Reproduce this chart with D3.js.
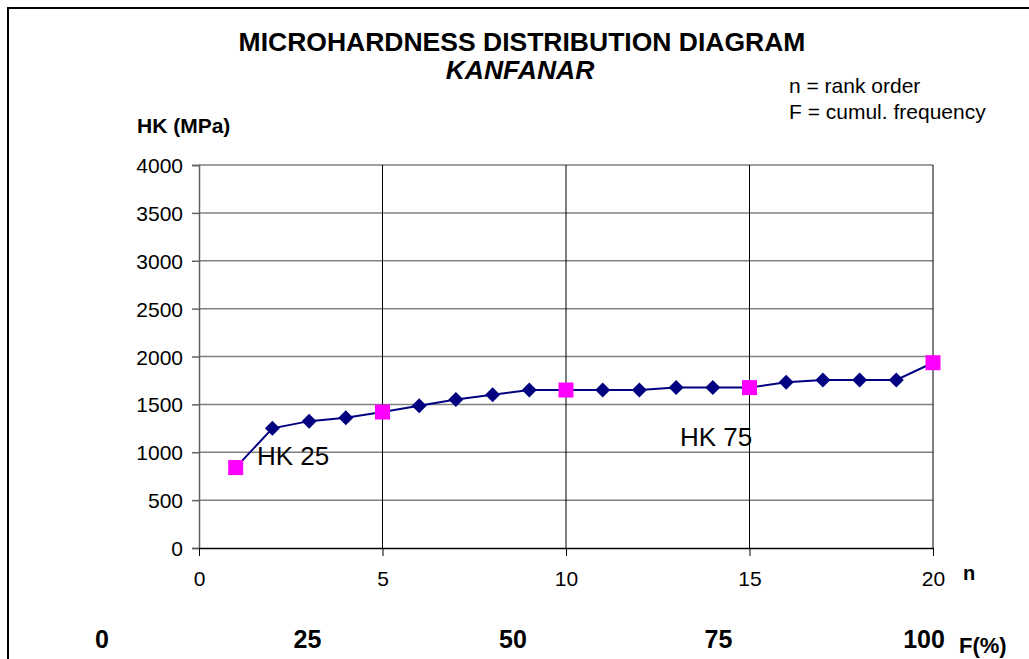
<!DOCTYPE html>
<html>
<head>
<meta charset="utf-8">
<script src="https://cdn.jsdelivr.net/npm/d3@7"></script>
<style>
  html, body { margin: 0; padding: 0; background: #ffffff; }
  svg text { font-family: "Liberation Sans", Arial, sans-serif; fill: #000000; }
</style>
</head>
<body>
<div id="chart"></div>
<script>
// data
var rankN     = [1, 2, 3, 4, 5, 6, 7, 8, 9, 10, 11, 12, 13, 14, 15, 16, 17, 18, 19, 20];
var hkValues  = [840, 1250, 1325, 1360, 1420, 1485, 1550, 1600, 1650, 1650,
                 1650, 1650, 1675, 1675, 1675, 1730, 1755, 1755, 1755, 1935];
var quartileN = [1, 5, 10, 15, 20];
var yTicks    = [0, 500, 1000, 1500, 2000, 2500, 3000, 3500, 4000];
var nTicks    = [0, 5, 10, 15, 20];
var fTicks    = [0, 25, 50, 75, 100];

var width = 1029, height = 659;
var plot = {left: 199, right: 933, top: 165, bottom: 548};

var svg = d3.select("#chart").append("svg")
  .attr("width", width)
  .attr("height", height);

// outer frame
svg.append("rect")
  .attr("x", 8).attr("y", 8)
  .attr("width", width + 20).attr("height", height + 20)
  .style("fill", "none")
  .style("stroke", "#000000")
  .style("stroke-width", 2);

var x = d3.scaleLinear().domain([0, 20]).range([plot.left, plot.right]);
var y = d3.scaleLinear().domain([0, 4000]).range([plot.bottom, plot.top]);
var f = d3.scaleLinear().domain([0, 100]).range([102, 924]);

// horizontal grid
svg.append("g").selectAll("line")
  .data(yTicks.filter(function(d){ return d > 0; }))
  .enter().append("line")
  .attr("x1", plot.left).attr("x2", plot.right)
  .attr("y1", function(d){ return y(d); })
  .attr("y2", function(d){ return y(d); })
  .style("stroke", "#808080")
  .style("stroke-width", 1.5);

// vertical grid
svg.append("g").selectAll("line")
  .data(nTicks.filter(function(d){ return d > 0; }))
  .enter().append("line")
  .attr("x1", function(d){ return x(d); })
  .attr("x2", function(d){ return x(d); })
  .attr("y1", plot.top).attr("y2", plot.bottom)
  .style("stroke", "#000000")
  .style("stroke-width", 1);

// y axis
var yAxis = svg.append("g")
  .attr("transform", "translate(" + plot.left + ",0)")
  .call(d3.axisLeft(y).tickValues(yTicks).tickFormat(d3.format("d"))
    .tickSize(7).tickPadding(9));
yAxis.select(".domain").style("stroke", "#606060").style("stroke-width", 1.5);
yAxis.selectAll(".tick line").style("stroke", "#606060").style("stroke-width", 1.5);
yAxis.selectAll("text")
  .style("font-family", "'Liberation Sans', Arial, sans-serif")
  .style("font-size", "21px")
  .attr("dy", "0.36em");

// x axis (n)
var xAxis = svg.append("g")
  .attr("transform", "translate(0," + plot.bottom + ")")
  .call(d3.axisBottom(x).tickValues(nTicks).tickSize(8).tickSizeOuter(0).tickPadding(15));
xAxis.select(".domain").style("stroke", "#000000").style("stroke-width", 1.5);
xAxis.selectAll(".tick line").style("stroke", "#000000");
xAxis.selectAll("text")
  .style("font-family", "'Liberation Sans', Arial, sans-serif")
  .style("font-size", "21px");

svg.append("text")
  .attr("x", 963).attr("y", 580)
  .style("font-size", "20px").style("font-weight", "bold")
  .text("n");

// cumulative frequency labels
svg.append("g").selectAll("text")
  .data(fTicks)
  .enter().append("text")
  .attr("x", function(d){ return f(d); })
  .attr("y", 648)
  .attr("text-anchor", "middle")
  .style("font-size", "25px").style("font-weight", "bold")
  .text(function(d){ return d; });

svg.append("text")
  .attr("x", 959).attr("y", 653)
  .style("font-size", "22px").style("font-weight", "bold")
  .text("F(%)");

// data line
var line = d3.line()
  .x(function(d, i){ return x(rankN[i]); })
  .y(function(d){ return y(d); });

svg.append("path")
  .datum(hkValues)
  .attr("d", line)
  .style("fill", "none")
  .style("stroke", "#000080")
  .style("stroke-width", 2);

// markers
var points = rankN.map(function(n, i){ return {n: n, v: hkValues[i]}; });
svg.append("g").selectAll("path")
  .data(points.filter(function(p){ return quartileN.indexOf(p.n) === -1; }))
  .enter().append("path")
  .attr("d", "M0,-7.5L7.5,0L0,7.5L-7.5,0Z")
  .attr("transform", function(p){ return "translate(" + x(p.n) + "," + y(p.v) + ")"; })
  .style("fill", "#000080");

svg.append("g").selectAll("rect")
  .data(points.filter(function(p){ return quartileN.indexOf(p.n) !== -1; }))
  .enter().append("rect")
  .attr("x", function(p){ return x(p.n) - 7.5; })
  .attr("y", function(p){ return y(p.v) - 7.5; })
  .attr("width", 15).attr("height", 15)
  .style("fill", "#FF00FF");

// annotations
svg.append("text")
  .attr("x", 257).attr("y", 465)
  .style("font-size", "26px")
  .text("HK 25");
svg.append("text")
  .attr("x", 680).attr("y", 446)
  .style("font-size", "26px")
  .text("HK 75");

// titles
svg.append("text")
  .attr("x", 522).attr("y", 51)
  .attr("text-anchor", "middle")
  .style("font-size", "26.5px").style("font-weight", "bold")
  .text("MICROHARDNESS DISTRIBUTION DIAGRAM");
svg.append("text")
  .attr("x", 520).attr("y", 79)
  .attr("text-anchor", "middle")
  .style("font-size", "26.5px").style("font-weight", "bold").style("font-style", "italic")
  .text("KANFANAR");

svg.append("text")
  .attr("x", 789).attr("y", 93)
  .style("font-size", "21px")
  .text("n = rank order");
svg.append("text")
  .attr("x", 789).attr("y", 119)
  .style("font-size", "21px")
  .text("F = cumul. frequency");

svg.append("text")
  .attr("x", 137).attr("y", 133)
  .style("font-size", "21px").style("font-weight", "bold")
  .text("HK (MPa)");
</script>
</body>
</html>
